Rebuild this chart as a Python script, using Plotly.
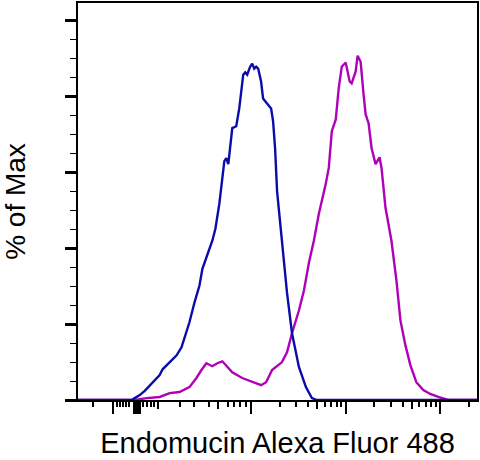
import numpy as np
import plotly.graph_objects as go

# ---- data (x in log10 fluorescence units, y in % of max) ----
blue_log10 = [1.10, 1.716, 1.737, 1.768, 1.821, 1.874, 1.926, 1.979, 2.032, 2.063, 2.105,
              2.158, 2.211, 2.263, 2.316, 2.347, 2.400, 2.453, 2.484, 2.526, 2.589,
              2.621, 2.663, 2.716, 2.737, 2.758, 2.800, 2.842, 2.874, 2.916, 2.937,
              2.958, 2.989, 3.011, 3.032, 3.053, 3.074, 3.105, 3.126, 3.168, 3.211,
              3.232, 3.253, 3.274, 3.326, 3.379, 3.432, 3.505, 3.579, 3.611, 3.642,
              3.695, 5.50]
blue_pct = [0, 0, 0, 0.5, 1.3, 2.4, 3.7, 5.0, 6.6, 8.1, 9.2,
            10.5, 11.8, 13.9, 17.8, 20.5, 25.7, 30.2, 34.6, 37.8, 42.0,
            45.1, 51.7, 63.0, 63.8, 62.2, 71.7, 72.2, 76.9, 85.8, 86.4,
            85.8, 87.9, 88.7, 87.4, 87.9, 87.4, 84.0, 79.5, 78.2, 76.9,
            73.5, 66.4, 55.1, 42.0, 28.3, 17.6, 8.7, 3.4, 1.8, 0.5,
            0, 0]

magenta_log10 = [1.10, 1.768, 1.895, 2.032, 2.137, 2.242, 2.347, 2.421, 2.474, 2.526,
                 2.589, 2.642, 2.695, 2.747, 2.800, 2.905, 3.011, 3.105, 3.158, 3.221,
                 3.326, 3.379, 3.432, 3.505, 3.558, 3.611, 3.663, 3.716, 3.789, 3.821,
                 3.853, 3.895, 3.926, 3.958, 4.000, 4.042, 4.063, 4.105, 4.126, 4.158,
                 4.189, 4.211, 4.242, 4.274, 4.316, 4.358, 4.379, 4.421, 4.484, 4.537,
                 4.579, 4.632, 4.684, 4.747, 4.821, 4.895, 4.979, 5.084, 5.50]
magenta_pct = [0, 0, 0.5, 0.8, 1.8, 2.1, 3.4, 5.8, 7.9, 9.7,
               8.9, 9.7, 10.2, 8.7, 7.3, 5.8, 4.7, 3.9, 4.7, 7.9,
               10.0, 12.6, 17.6, 23.6, 28.9, 36.2, 42.0, 49.1, 57.0, 61.2,
               70.9, 74.0, 82.2, 87.9, 89.0, 84.0, 83.5, 86.6, 90.8, 89.2,
               80.6, 75.3, 73.0, 66.4, 62.2, 64.0, 61.2, 50.7, 42.0, 31.5,
               21.0, 14.4, 9.2, 4.7, 2.6, 1.6, 0.8, 0, 0]

# tick positions on the (biexponential-looking) axis, in log10 units
x_major_ticks = [1.537, 1.758, 1.779, 1.800, 1.821, 3.0, 4.0, 5.0]
x_medium_ticks = [2.011, 2.653, np.log10(5e3), np.log10(5e4)]
x_minor_ticks = ([1.326, 1.579, 1.611, 1.642, 1.674, 1.705, 1.853, 1.895, 1.937, 1.968,
                  2.242, 2.400, 2.558, 2.758, 2.821, 2.884, 2.947]
                 + [np.log10(k * 1e3) for k in (2, 3, 4, 6, 7, 8, 9)]
                 + [np.log10(k * 1e4) for k in (2, 3, 4, 6, 7, 8, 9)]
                 + [np.log10(2e5)])

x_range_log = [1.168, 5.389]
y_range = [0, 104.7]

BLUE = "#0a0caa"
MAGENTA = "#b000b8"

def to_lin(a):
    return list(10 ** np.asarray(a, dtype=float))

fig = go.Figure()
fig.add_trace(go.Scatter(x=to_lin(magenta_log10), y=magenta_pct, mode="lines",
                         line=dict(color=MAGENTA, width=2.4), showlegend=False,
                         hoverinfo="skip"))
fig.add_trace(go.Scatter(x=to_lin(blue_log10), y=blue_pct, mode="lines",
                         line=dict(color=BLUE, width=2.4), showlegend=False,
                         hoverinfo="skip"))
# invisible trace to activate the overlay axis carrying the medium ticks
fig.add_trace(go.Scatter(x=[1000], y=[0], xaxis="x2", mode="markers",
                         marker=dict(opacity=0), showlegend=False, hoverinfo="skip"))

font = "Liberation Sans, Arial, sans-serif"

fig.update_layout(
    width=480, height=460,
    margin=dict(l=78, r=1, t=1, b=60),
    paper_bgcolor="white", plot_bgcolor="white",
    font=dict(family=font, color="black"),
    xaxis=dict(
        type="log", range=x_range_log,
        showgrid=False, zeroline=False,
        showline=True, linecolor="black", linewidth=1.5, mirror=True,
        ticks="outside", tickvals=to_lin(x_major_ticks), ticklen=12, tickwidth=2.2,
        tickcolor="black", showticklabels=False,
        minor=dict(tickvals=to_lin(x_minor_ticks), ticks="outside", ticklen=5,
                   tickwidth=1.5, tickcolor="black", showgrid=False),
        title=dict(text="Endomucin Alexa Fluor 488", font=dict(size=29, family=font),
                   standoff=20),
    ),
    xaxis2=dict(
        type="log", range=x_range_log, overlaying="x", anchor="y", side="bottom",
        showgrid=False, zeroline=False, showline=False,
        ticks="outside", tickvals=to_lin(x_medium_ticks), ticklen=8, tickwidth=1.8,
        tickcolor="black", showticklabels=False,
    ),
    yaxis=dict(
        range=y_range, showgrid=False, zeroline=False,
        showline=True, linecolor="black", linewidth=1.5, mirror=True,
        ticks="outside", tick0=0, dtick=20, ticklen=11, tickwidth=3,
        tickcolor="black", showticklabels=False,
        minor=dict(tick0=0, dtick=5, ticks="outside", ticklen=6, tickwidth=1.3,
                   tickcolor="black", showgrid=False),
        title=dict(text="% of Max", font=dict(size=28, family=font), standoff=32),
    ),
)

fig.write_html("out.html")
